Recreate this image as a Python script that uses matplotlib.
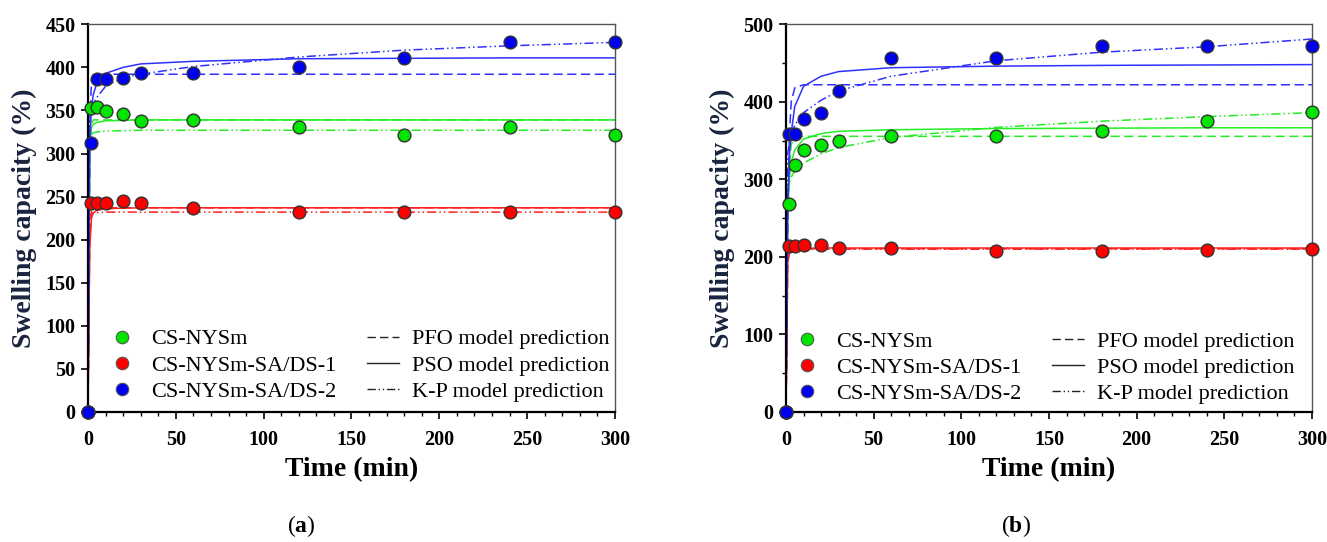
import matplotlib
matplotlib.use("Agg")
import matplotlib.pyplot as plt
from matplotlib.lines import Line2D
from matplotlib.ticker import MultipleLocator

plt.rcParams["font.family"] = ["Liberation Serif", "DejaVu Serif"]
plt.rcParams["mathtext.fontset"] = "custom"
plt.rcParams["mathtext.rm"] = "Liberation Serif"
plt.rcParams["mathtext.bf"] = "Liberation Serif:bold"

# sampling times (min)
t = [0, 2, 5, 10, 20, 30, 60, 120, 180, 240, 300]

# panel (a) measured swelling (%)
a_green = [0, 353, 354, 349, 346, 338, 339, 331, 322, 331, 322]
a_red = [0, 242, 242, 242, 245, 242, 237, 232, 232, 232, 232]
a_blue = [0, 312, 386, 386, 388, 393, 394, 400, 411, 430, 430]

# panel (b) measured swelling (%)
b_green = [0, 268, 318, 338, 344, 349, 356, 356, 362, 375, 387]
b_red = [0, 214, 214, 215, 215, 211, 211, 208, 208, 209, 210]
b_blue = [0, 358, 358, 378, 386, 414, 456, 456, 472, 472, 472]

# model prediction curves
tm = [0, 1, 2, 3, 5, 10, 20, 30, 60, 120, 180, 240, 300]

a_green_pfo = [0, 300, 335, 339, 339, 339, 339, 339, 339, 339, 339, 339, 339]
a_green_pso = [0, 310, 330, 334, 336, 338, 338.5, 339, 339, 339, 339, 339, 339]
a_green_kp = [0, 318, 322, 324, 325, 326, 326.5, 327, 327, 327, 327, 327, 327]
a_red_pfo = [0, 200, 235, 237, 237, 237, 237, 237, 237, 237, 237, 237, 237]
a_red_pso = [0, 190, 225, 231, 234, 236, 236.5, 237, 237, 237, 237, 237, 237]
a_red_kp = [0, 228, 230, 231, 231.5, 232, 232, 232, 232, 232, 232, 232, 232]
a_blue_pfo = [0, 330, 385, 391, 392, 392, 392, 392, 392, 392, 392, 392, 392]
a_blue_pso = [0, 310, 355, 368, 382, 393, 400, 404, 407, 410, 410.5, 411, 411]
a_blue_kp = [0, 343, 353, 358, 365, 378, 388, 392, 401, 412, 420, 425, 429]

b_green_pfo = [0, 250, 320, 345, 354, 355.5, 355.5, 355.5, 355.5, 355.5, 355.5, 355.5, 355.5]
b_green_pso = [0, 258, 303, 322, 338, 352, 359, 362, 364, 365.5, 366, 366.5, 366.5]
b_green_kp = [0, 285, 296, 303, 311, 321, 333, 341, 354, 367, 375, 381, 386]
b_red_pfo = [0, 190, 208, 210.5, 210.5, 210.5, 210.5, 210.5, 210.5, 210.5, 210.5, 210.5, 210.5]
b_red_pso = [0, 195, 205, 208, 210, 211, 211.5, 211.5, 211.5, 211.5, 211.5, 211.5, 211.5]
b_red_kp = [0, 205, 207, 208, 209, 209.5, 210, 210, 210, 210, 210, 210, 210]
b_blue_pfo = [0, 250, 360, 400, 418, 422, 422, 422, 422, 422, 422, 422, 422]
b_blue_pso = [0, 262, 332, 360, 394, 420, 433, 439, 444, 446, 447, 447.5, 448]
b_blue_kp = [0, 333, 347, 357, 370, 386, 402, 414, 433, 453, 464, 471, 481]

labels = ["CS-NYSm", "CS-NYSm-SA/DS-1", "CS-NYSm-SA/DS-2"]
model_labels = ["PFO model prediction", "PSO model prediction", "K-P model prediction"]
mcolors = ["#00e600", "#ff0000", "#0000f0"]
lcolors = ["#22ee22", "#ff2020", "#3030ff"]
styles = [(0, (6, 3)), "-", (0, (6, 2, 1, 2, 1, 2))]

fig = plt.figure(figsize=(13.27, 5.42), dpi=100)
ax1 = fig.add_axes([0.0663, 0.2399, 0.3971, 0.7153])
ax2 = fig.add_axes([0.5923, 0.2399, 0.3964, 0.7153])

panels = [
    (ax1, [a_green, a_red, a_blue],
     [[a_green_pfo, a_green_pso, a_green_kp],
      [a_red_pfo, a_red_pso, a_red_kp],
      [a_blue_pfo, a_blue_pso, a_blue_kp]], 450, 50, None, "a", (0.013, -0.002), 0.405),
    (ax2, [b_green, b_red, b_blue],
     [[b_green_pfo, b_green_pso, b_green_kp],
      [b_red_pfo, b_red_pso, b_red_kp],
      [b_blue_pfo, b_blue_pso, b_blue_kp]], 500, 100, 50, "b", (-0.012, -0.008), 0.437),
]

for ax, data, models, ymax, ystep, yminor, tag, leg_xy, tag_x in panels:
    for i in range(3):
        for j in range(3):
            ax.plot(tm, models[i][j], color=lcolors[i], lw=1.1, ls=styles[j], zorder=2)
    for i in range(3):
        ax.plot(t, data[i], ls="none", marker="o", ms=9.2, mfc=mcolors[i],
                mec="#333333", mew=1.0, zorder=3, clip_on=False)

    ax.set_xlim(0, 300)
    ax.set_ylim(0, ymax)
    ax.xaxis.set_major_locator(MultipleLocator(50))
    ax.xaxis.set_minor_locator(MultipleLocator(10))
    ax.yaxis.set_major_locator(MultipleLocator(ystep))
    if yminor:
        ax.yaxis.set_minor_locator(MultipleLocator(yminor))
    ax.tick_params(axis="both", which="major", direction="out", length=5, width=1.2,
                   labelsize=14.5, pad=4)
    ax.tick_params(axis="x", which="major", pad=8)
    ax.tick_params(axis="both", which="minor", direction="out", length=3, width=1.0)
    for lab in ax.get_xticklabels() + ax.get_yticklabels():
        lab.set_fontweight("bold")
    ax.spines["left"].set_linewidth(1.6)
    ax.spines["bottom"].set_linewidth(1.6)
    for s in ["top", "right"]:
        ax.spines[s].set_linewidth(1.0)
        ax.spines[s].set_color("#555555")

    ax.set_xlabel("Time (min)", fontsize=20, fontweight="bold", labelpad=5)
    ax.set_ylabel("Swelling capacity (%)", fontsize=20, fontweight="bold",
                  color="#1a2440", labelpad=6)

    handles = [Line2D([], [], ls="none", marker="o", ms=9, mfc=c, mec="#555555", mew=0.8)
               for c in mcolors]
    handles += [Line2D([], [], color="#222222", lw=1.0, ls=s) for s in styles]
    ax.legend(handles, labels + model_labels, ncol=2, loc="lower left",
              bbox_to_anchor=leg_xy, frameon=False, fontsize=16,
              handlelength=1.44, handletextpad=0.58, labelspacing=0.25,
              columnspacing=1.4, borderpad=0.0)

    pos = ax.get_position()
    fig.text(pos.x0 + pos.width * tag_x, 0.03, r"($\mathbf{%s}$)" % tag, fontsize=17,
             ha="center", va="center")

fig.savefig("out.png", dpi=100)
